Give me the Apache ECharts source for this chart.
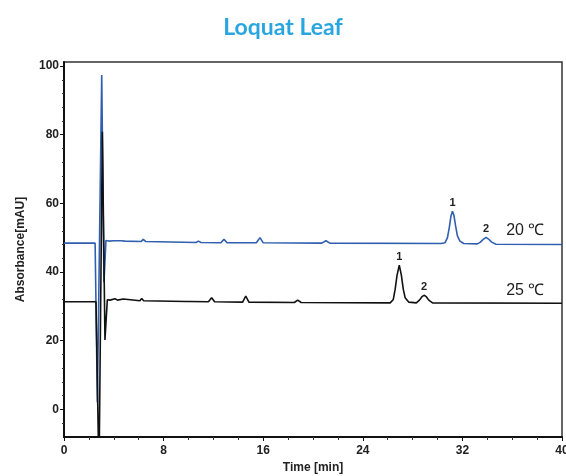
<!DOCTYPE html>
<html>
<head>
<meta charset="utf-8">
<script src="https://cdn.jsdelivr.net/npm/echarts@6/dist/echarts.min.js"></script>
<style>
  html, body { margin: 0; padding: 0; background: #fff; }
  #main { width: 566px; height: 476px; }
</style>
</head>
<body>
<div id="main"></div>
<script>
// chromatogram traces, [time (min), absorbance (mAU)]
const trace20 = [
  [0, 48.4], [2.5, 48.4], [2.68, 2], [3.03, 97.4], [3.21, 37], [3.37, 49.2],
  [3.6, 49.0], [4.0, 49.1], [4.1, 49.6], [4.25, 49.1], [4.6, 49.1], [4.76, 49.6],
  [4.9, 49.0], [6.2, 48.9], [6.37, 49.5], [6.55, 48.9], [10.6, 48.6], [10.8, 49.0],
  [11.0, 48.6], [12.6, 48.5], [12.85, 49.5], [13.1, 48.5], [15.45, 48.5], [15.74, 50.0],
  [16.0, 48.5], [20.7, 48.4], [21.04, 49.1], [21.35, 48.4], [30.3, 48.3], [30.6, 48.5],
  [30.8, 50], [30.95, 53], [31.08, 56.3], [31.2, 57.7], [31.32, 56.5], [31.45, 53.5],
  [31.6, 50.5], [31.8, 49], [32.1, 48.3], [33.2, 48.2], [33.45, 48.7], [33.7, 49.6],
  [33.9, 50.1], [34.1, 49.6], [34.35, 48.7], [34.7, 48.1], [40, 48.0]
];
const trace25 = [
  [0, 31.3], [2.57, 31.3], [2.81, -20], [3.08, 80.9], [3.29, 20.2], [3.48, 31.9],
  [3.7, 31.8], [4.1, 32.2], [4.3, 31.8], [4.76, 32.1], [4.9, 31.7], [6.1, 31.6],
  [6.24, 32.3], [6.4, 31.6], [9.8, 31.4], [9.95, 31.7], [10.1, 31.4], [11.6, 31.3],
  [11.86, 32.5], [12.1, 31.3], [14.35, 31.2], [14.6, 33.0], [14.85, 31.2], [18.5, 31.1],
  [18.77, 31.8], [19.05, 31.1], [26.2, 31.0], [26.45, 32], [26.6, 35], [26.75, 39],
  [26.93, 42], [27.1, 39], [27.25, 35], [27.4, 32.5], [27.7, 31.2], [28.3, 31.0],
  [28.55, 31.8], [28.75, 32.8], [28.92, 33.2], [29.1, 32.8], [29.3, 31.8], [29.6, 31.0],
  [40, 30.9]
];
// numbered peaks: [time, height, label]
const peaks20 = [[31.2, 57.7, "1"], [33.9, 50.1, "2"]];
const peaks25 = [[26.93, 42, "1"], [28.92, 33.2, "2"]];
// trace names placed to the right
const traceNames = ["20 ℃", "25 ℃"];
const traceNamePos = [[37.05, 52.2], [37.05, 34.7]];

const yLabels = [0, 20, 40, 60, 80, 100];
const yMinor = [-4, 4, 8, 12, 16, 24, 28, 32, 36, 44, 48, 52, 56, 64, 68, 72, 76, 84, 88, 92, 96];

const font = "Liberation Sans";
const myChart = echarts.init(document.getElementById("main"));

const peakMarks = (peaks, dist) => ({
  symbol: "circle",
  symbolSize: 0,
  silent: true,
  label: {
    show: true, position: "top", distance: dist,
    color: "#222", fontSize: 11, fontWeight: "bold", fontFamily: font,
    formatter: (p) => p.data.name
  },
  data: peaks.map((p) => ({ coord: [p[0], p[1]], name: p[2] }))
});

const nameMark = (i) => ({
  coord: traceNamePos[i], name: traceNames[i],
  label: {
    show: true, position: "inside", distance: 0,
    color: "#222", fontSize: 16, fontWeight: "normal", fontFamily: font,
    formatter: (p) => p.data.name
  }
});

const m20 = peakMarks(peaks20, 3);
m20.data.push(nameMark(0));
const m25 = peakMarks(peaks25, 3);
m25.data.push(nameMark(1));

myChart.setOption({
  animation: false,
  title: {
    text: "Loquat Leaf",
    left: "center",
    top: 11,
    textStyle: { color: "#29a6df", fontSize: 23, fontWeight: "bold", fontFamily: "Lato" }
  },
  grid: {
    left: 64, right: 4, top: 62, bottom: 39,
    outerBoundsMode: "none",
    show: true, borderColor: "#333", borderWidth: 1.5
  },
  xAxis: {
    type: "value",
    min: 0, max: 40, interval: 8,
    name: "Time [min]",
    nameLocation: "middle",
    nameGap: 22,
    nameTextStyle: { color: "#222", fontSize: 12, fontWeight: "bold", fontFamily: font },
    axisLine: { show: true, onZero: false, lineStyle: { color: "#111", width: 2 } },
    axisTick: { show: true, length: 4, lineStyle: { color: "#111" } },
    minorTick: { show: true, splitNumber: 4, length: 3, lineStyle: { color: "#333" } },
    axisLabel: { color: "#222", fontSize: 12, fontWeight: "bold", fontFamily: font, margin: 8 },
    splitLine: { show: false }
  },
  yAxis: [
    {
      type: "value",
      min: -8.1, max: 101.2,
      name: "Absorbance[mAU]",
      nameLocation: "middle",
      nameGap: 37,
      nameTextStyle: { color: "#222", fontSize: 12, fontWeight: "bold", fontFamily: font },
      axisLine: { show: true, onZero: false, lineStyle: { color: "#111", width: 2 } },
      axisTick: { show: true, length: 4, customValues: yLabels, lineStyle: { color: "#111" } },
      axisLabel: {
        customValues: yLabels, color: "#222", fontSize: 12,
        fontWeight: "bold", fontFamily: font, margin: 5
      },
      splitLine: { show: false }
    },
    {
      type: "value",
      min: -8.1, max: 101.2,
      position: "left",
      axisLine: { show: false },
      axisTick: { show: true, length: 2, customValues: yMinor, lineStyle: { color: "#333" } },
      axisLabel: { show: false },
      splitLine: { show: false }
    }
  ],
  series: [
    {
      type: "line",
      data: trace20,
      showSymbol: false,
      lineStyle: { color: "#2f5fae", width: 1.6 },
      itemStyle: { color: "#2f5fae" },
      markPoint: m20
    },
    {
      type: "line",
      data: trace25,
      showSymbol: false,
      lineStyle: { color: "#111", width: 1.6 },
      itemStyle: { color: "#111" },
      markPoint: m25
    }
  ]
});
</script>
</body>
</html>
